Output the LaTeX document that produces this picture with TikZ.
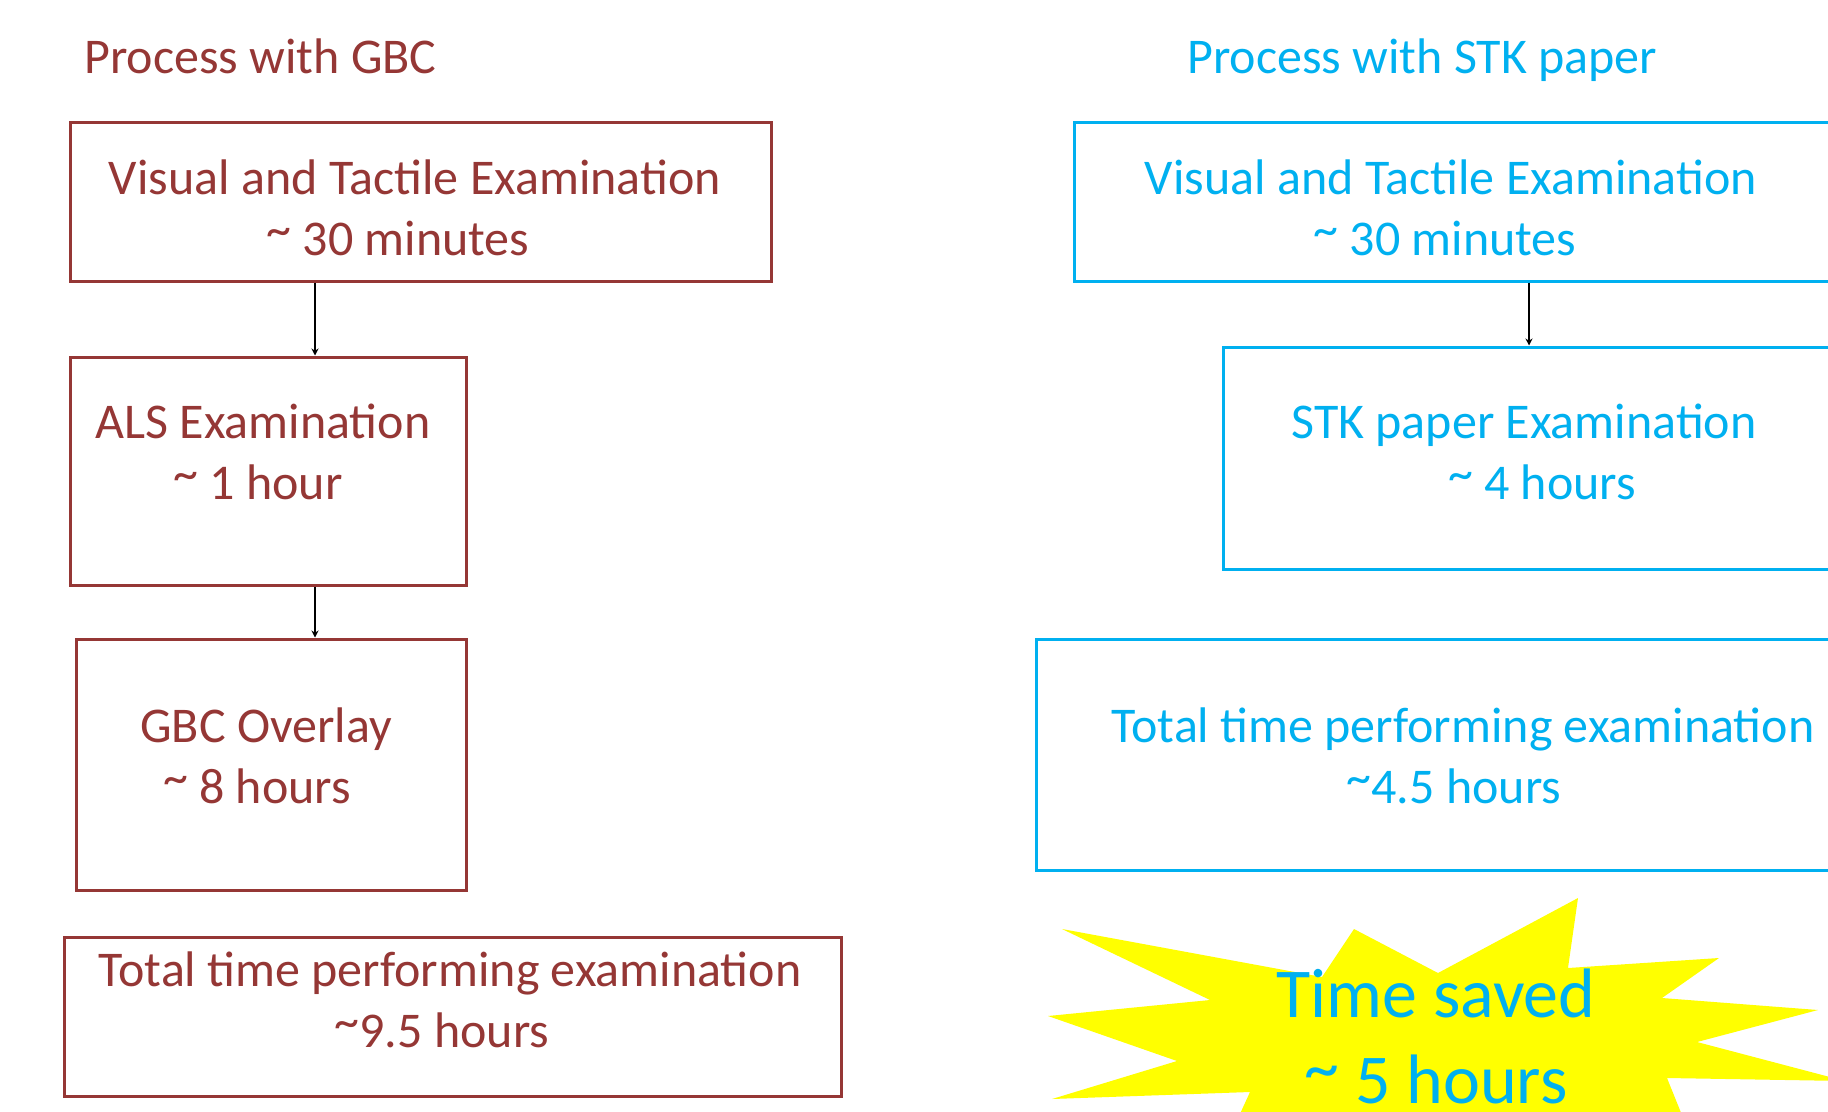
\documentclass[tikz,border=0pt]{standalone}
\usepackage{fontspec}
\setmainfont{Carlito}
\usetikzlibrary{arrows.meta,fit}
\definecolor{gbc}{HTML}{953735}
\definecolor{stk}{HTML}{00B0F0}
\definecolor{burst}{HTML}{FFFF00}
\newcommand\tld{\raisebox{0.17em}{\textasciitilde}}
\begin{document}
\begin{tikzpicture}[x=1pt,y=-1pt,
  boxbase/.style={draw, line width=3pt, inner sep=0pt},
  gbcbox/.style={boxbase, draw=gbc},
  stkbox/.style={boxbase, draw=stk},
  txt/.style={anchor=base, inner sep=0pt, font=\fontsize{50}{61}\selectfont},
  gbctxt/.style={txt, text=gbc},
  stktxt/.style={txt, text=stk},
  bursttxt/.style={anchor=base, inner sep=0pt, text=stk, font=\fontsize{70}{86}\selectfont},
  flow/.style={-{Stealth[length=7pt,width=7pt]}, line width=2.2pt, black}
]
\useasboundingbox (0,0) rectangle (1828,1111);
\clip (0,0) rectangle (1828,1111);
\fill[white] (0,0) rectangle (1828,1111);

% titles
\node[gbctxt, anchor=base west] (tl) at (84,73) {Process with GBC};
\node[stktxt, anchor=base west] (tr) at (1187,73) {Process with STK paper};

% left column boxes
\node[gbcbox, fit={(70,122) (771,281)}] (L1) {};
\node[gbcbox, fit={(70,357) (466,585)}] (L2) {};
\node[gbcbox, fit={(76,639) (466,890)}] (L3) {};
\node[gbcbox, fit={(64,937) (841,1096)}] (L4) {};

\node[gbctxt] (L1a) at (415,194) {Visual and Tactile Examination};
\node[gbctxt] (L1b) at (398,255) {\tld{} 30 minutes};
\node[gbctxt] (L2a) at (263,438) {ALS Examination};
\node[gbctxt] (L2b) at (258,499) {\tld{} 1 hour};
\node[gbctxt] (L3a) at (266,742) {GBC Overlay};
\node[gbctxt] (L3b) at (257,803) {\tld{} 8 hours};
\node[gbctxt] (L4a) at (450,986) {Total time performing examination};
\node[gbctxt] (L4b) at (442,1047) {\tld9.5 hours};

\coordinate (ax) at (315,0);
\draw[flow] (L1.south -| ax) -- (L2.north -| ax);
\draw[flow] (L2.south -| ax) -- (L3.north -| ax);

% right column boxes
\node[stkbox, fit={(1074,122) (1860,281)}] (R1) {};
\node[stkbox, fit={(1223,347) (1860,569)}] (R2) {};
\node[stkbox, fit={(1036,639) (1860,870)}] (R3) {};

\node[stktxt] (R1a) at (1451,194) {Visual and Tactile Examination};
\node[stktxt] (R1b) at (1445,255) {\tld{} 30 minutes};
\node[stktxt] (R2a) at (1524,438) {STK paper Examination};
\node[stktxt] (R2b) at (1542,499) {\tld{} 4 hours};
\node[stktxt] (R3a) at (1463,742) {Total time performing examination};
\node[stktxt] (R3b) at (1454,803) {\tld4.5 hours};

\coordinate (bx) at (1529,0);
\draw[flow] (R1.south -| bx) -- (R2.north -| bx);

% explosion
\fill[burst] (1062,929) -- (1322,977) -- (1354,929) -- (1438,973) -- (1578,898)
  -- (1568,968) -- (1719,958) -- (1662,998) -- (1818,1010) -- (1697,1042)
  -- (1845,1081) -- (1667,1078) -- (1692,1140) -- (1440,1125) -- (1228,1140)
  -- (1250,1092) -- (1052,1099) -- (1177,1061) -- (1048,1016) -- (1210,1000) -- cycle;
\node[bursttxt] (S1) at (1436,1017) {Time saved};
\node[bursttxt] (S2) at (1436,1103) {\tld{} 5 hours};
\end{tikzpicture}
\end{document}
